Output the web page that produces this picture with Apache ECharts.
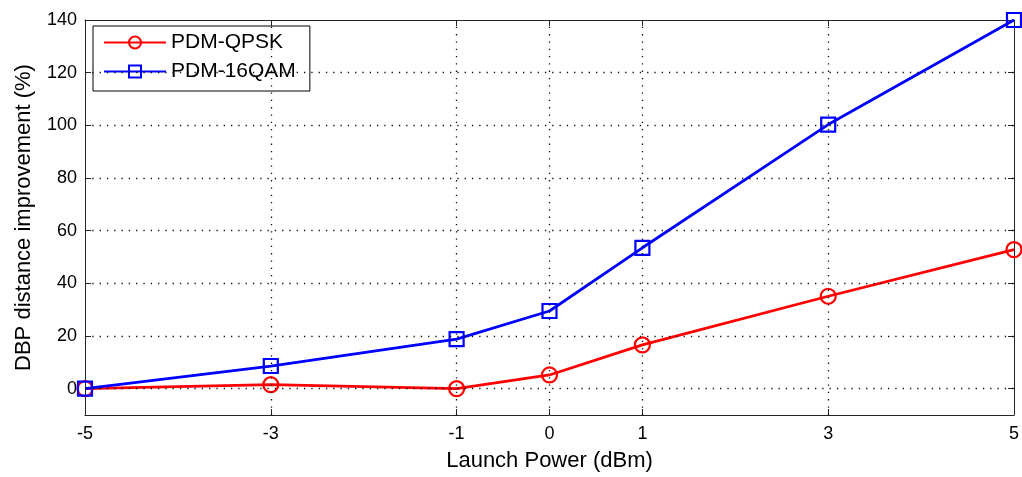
<!DOCTYPE html>
<html>
<head>
<meta charset="utf-8">
<script src="https://cdn.jsdelivr.net/npm/echarts@6/dist/echarts.min.js"></script>
<style>
  html, body { margin: 0; padding: 0; background: #fff; }
  #chart { width: 1022px; height: 477px; }
</style>
</head>
<body>
<div id="chart"></div>
<script>
// Launch power sweep (dBm) and DBP distance improvement (%)
const launchPower = [-5, -3, -1, 0, 1, 3, 5];
const qpsk = [0, 1.5, 0, 5.2, 16.6, 35.1, 52.8];
const qam16 = [0, 8.6, 18.8, 29.5, 53.5, 100.3, 140];

// Tick positions
const xTicks = [-5, -3, -1, 0, 1, 3, 5];
const yTicks = [0, 20, 40, 60, 80, 100, 120, 140];
// Interior dotted grid lines
const xGrid = [-3, -1, 0, 1, 3];
const yGrid = [0, 20, 40, 60, 80, 100, 120];

const FONT = 'Liberation Sans, Arial, sans-serif';
const AXIS_COLOR = '#262626';

const chart = echarts.init(document.getElementById('chart'), null, { renderer: 'canvas' });

function pairs(xs, ys) { return xs.map((x, i) => [x, ys[i]]); }

const gridLines = [
  ...xGrid.map(v => ({ xAxis: v })),
  ...yGrid.map(v => ({ yAxis: v }))
];

const tickCommon = { show: true, inside: true, length: 6, lineStyle: { color: AXIS_COLOR, width: 1 } };

chart.setOption({
  animation: false,
  backgroundColor: '#fff',
  grid: { left: 85, right: 4, top: 20, bottom: 60, containLabel: false },
  legend: {
    orient: 'vertical',
    left: 93, top: 26,
    padding: [6, 14, 9, 10],
    itemGap: 8,
    itemWidth: 62, itemHeight: 15,
    backgroundColor: '#fff',
    borderColor: '#000', borderWidth: 1,
    textStyle: { fontFamily: FONT, fontSize: 21, lineHeight: 21, color: '#000' },
    data: ['PDM-QPSK', 'PDM-16QAM']
  },
  xAxis: [
    {
      type: 'value', min: -5, max: 5, interval: 1,
      name: 'Launch Power (dBm)', nameLocation: 'middle', nameGap: 35,
      nameTextStyle: { fontFamily: FONT, fontSize: 22, color: '#000' },
      axisLine: { onZero: false, lineStyle: { color: AXIS_COLOR, width: 1 } },
      axisTick: Object.assign({ customValues: xTicks }, tickCommon),
      axisLabel: { customValues: xTicks, fontFamily: FONT, fontSize: 18, color: '#000', margin: 10 },
      splitLine: { show: false }
    },
    {
      type: 'value', min: -5, max: 5, interval: 1, position: 'top',
      axisLine: { onZero: false, lineStyle: { color: AXIS_COLOR, width: 1 } },
      axisTick: Object.assign({ customValues: xTicks }, tickCommon),
      axisLabel: { show: false },
      splitLine: { show: false }
    }
  ],
  yAxis: [
    {
      type: 'value', min: -10, max: 140, interval: 10,
      name: 'DBP distance improvement (%)', nameLocation: 'middle', nameGap: 50,
      nameTextStyle: { fontFamily: FONT, fontSize: 22, color: '#000' },
      axisLine: { onZero: false, lineStyle: { color: AXIS_COLOR, width: 1 } },
      axisTick: Object.assign({ customValues: yTicks }, tickCommon),
      axisLabel: { customValues: yTicks, fontFamily: FONT, fontSize: 18, color: '#000', margin: 8 },
      splitLine: { show: false }
    },
    {
      type: 'value', min: -10, max: 140, interval: 10, position: 'right',
      axisLine: { onZero: false, lineStyle: { color: AXIS_COLOR, width: 1 } },
      axisTick: Object.assign({ customValues: yTicks }, tickCommon),
      axisLabel: { show: false },
      splitLine: { show: false }
    }
  ],
  series: [
    {
      name: 'grid', type: 'line', data: [], z: 1, silent: true,
      markLine: {
        silent: true, symbol: 'none', label: { show: false },
        lineStyle: { type: [1.3, 6], color: '#111', width: 1.3 },
        data: gridLines
      }
    },
    {
      name: 'PDM-QPSK', type: 'line', z: 3,
      data: pairs(launchPower, qpsk),
      symbol: 'circle', symbolSize: 15,
      lineStyle: { color: '#ff0000', width: 2.8 },
      itemStyle: { color: 'rgba(0,0,0,0)', borderColor: '#ff0000', borderWidth: 2.2 }
    },
    {
      name: 'PDM-16QAM', type: 'line', z: 4,
      data: pairs(launchPower, qam16),
      symbol: 'rect', symbolSize: 14,
      lineStyle: { color: '#0000ff', width: 2.8 },
      itemStyle: { color: 'rgba(0,0,0,0)', borderColor: '#0000ff', borderWidth: 2.2 }
    }
  ]
});
</script>
</body>
</html>
